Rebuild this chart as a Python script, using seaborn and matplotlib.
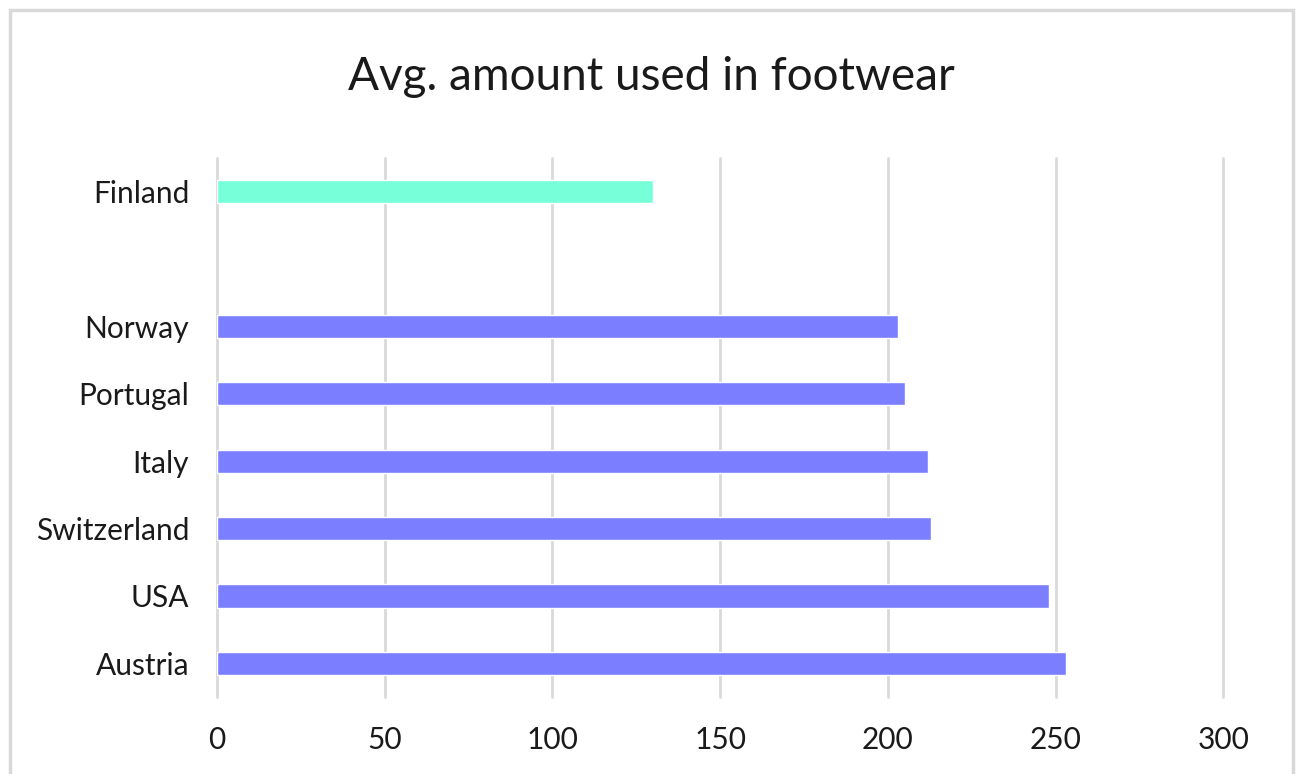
import matplotlib
matplotlib.use("Agg")
import matplotlib.pyplot as plt
import seaborn as sns
import pandas as pd
import numpy as np
from matplotlib.patches import Rectangle

# Average spend on footwear by country (blank row separates Finland)
countries = ["Finland", " ", "Norway", "Portugal", "Italy", "Switzerland", "USA", "Austria"]
amounts = [130, np.nan, 203, 205, 212, 213, 248, 253]
bar_colors = ["#76FFD8", "#FFFFFF", "#7B7FFF", "#7B7FFF", "#7B7FFF", "#7B7FFF", "#7B7FFF", "#7B7FFF"]
x_ticks = [0, 50, 100, 150, 200, 250, 300]

df = pd.DataFrame({"country": countries, "amount": amounts})

sns.set_theme(style="white")
plt.rcParams["font.family"] = ["Lato", "DejaVu Sans"]

fig = plt.figure(figsize=(12.96, 7.74), dpi=100)
ax = fig.add_axes([217 / 1296, 1 - 697 / 774, (1223.3 - 217) / 1296, (697 - 158) / 774])

sns.barplot(data=df, x="amount", y="country", hue="country", palette=bar_colors,
            legend=False, orient="h", width=0.345, ax=ax, saturation=1)

ax.set_xlim(0, 300)
ax.set_ylim(len(countries) - 0.5, -0.5)
ax.set_xticks(x_ticks)
ax.set_xticklabels([str(t) for t in x_ticks])
ax.xaxis.grid(True, color="#D9D9D9", linewidth=2)
ax.yaxis.grid(False)
ax.set_axisbelow(True)
for gl in ax.get_xgridlines():
    gl.set_clip_on(False)
for s in ax.spines.values():
    s.set_visible(False)
ax.tick_params(axis="both", length=0, labelsize=21.5, colors="#1a1a1a")
ax.tick_params(axis="x", pad=21)
ax.tick_params(axis="y", pad=20)
ax.set_xlabel("")
ax.set_ylabel("")

fig.text(651 / 1296, 1 - 77 / 774, "Avg. amount used in footwear", ha="center", va="center",
         fontsize=33, color="#1a1a1a")

# Chart frame
fig.patches.append(Rectangle((9.5 / 1296, -0.1), (1292.5 - 9.5) / 1296, 1.1 - 9.5 / 774,
                             transform=fig.transFigure, fill=False,
                             edgecolor="#D9D9D9", linewidth=2.5))

fig.savefig("out.png", dpi=100, facecolor="white")
